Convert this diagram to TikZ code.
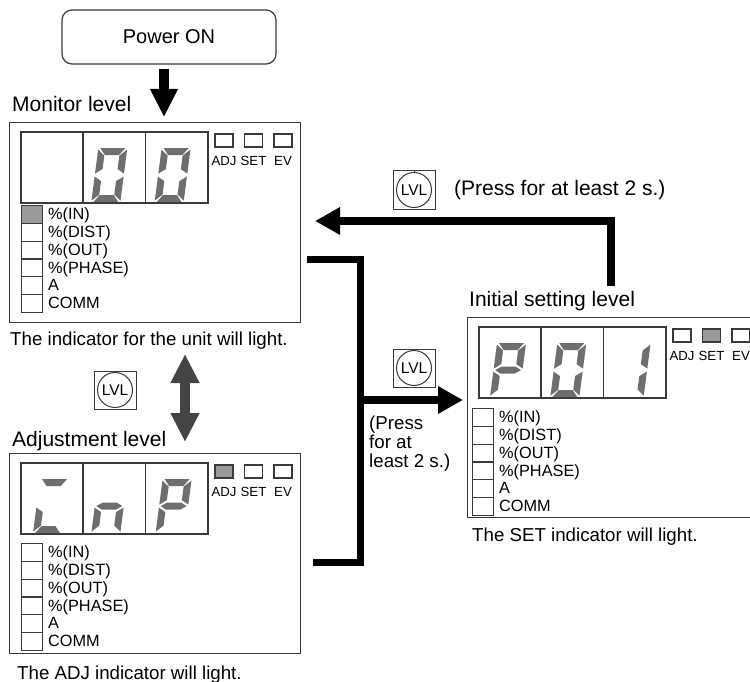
\documentclass[tikz,border=0pt]{standalone}
\usepackage{fontspec}
\setmainfont{Liberation Sans}
\usetikzlibrary{arrows.meta, positioning}
\definecolor{seggray}{HTML}{6E6E6E}
\definecolor{litgray}{HTML}{9A9A9A}
\definecolor{framegray}{HTML}{3A3A3A}
\definecolor{arrowgray}{HTML}{444444}

\newcommand{\sega}{(2,54) -- (27,54) -- (21.5,47) -- (7.5,47) -- cycle}
\newcommand{\segb}{(29,52.5) -- (29,28.5) -- (22,33) -- (22,46.5) -- cycle}
\newcommand{\segc}{(29,25.5) -- (29,1.5) -- (22,7.5) -- (22,21) -- cycle}
\newcommand{\segd}{(2,0) -- (27,0) -- (21.5,7) -- (7.5,7) -- cycle}
\newcommand{\sege}{(0,1.5) -- (0,25.5) -- (7,21) -- (7,7.5) -- cycle}
\newcommand{\segf}{(0,28.5) -- (0,52.5) -- (7,46.5) -- (7,33) -- cycle}
\newcommand{\segg}{(1.5,27) -- (7.5,30.5) -- (21.5,30.5) -- (27.5,27) -- (21.5,23.5) -- (7.5,23.5) -- cycle}

\newcommand{\sevenseg}[3]{%
  \begin{scope}[shift={(#1.south west)}, shift={(#2,-1.5)}, x=1pt, y=1pt, xslant=0.13]
    \foreach \s in {#3} {\fill[seggray] \csname seg\s\endcsname;}
  \end{scope}}

\newcommand{\levelpanel}[5]{%
  \node[panelbox, anchor=north west] (#1) at (#2,#3) {};
  \foreach \i in {0,1,2}
    \node[digitcell, anchor=north west] (#1-d\i) at (#2+11+62.3*\i,#3+9) {};
  \foreach \k/\lab [count=\j from 0] in {adj/ADJ,set/SET,ev/EV} {
    \node[lampbox] (#1-\k) at (#2+215+29.5*\j,#3+18.5) {};
    \node[lamplabel] at (#2+215+29.5*\j,#3+43.5) {\lab};
  }
  \foreach \lab [count=\j from 0] in {\%(IN),\%(DIST),\%(OUT),\%(PHASE),A,COMM} {
    \node[listbox, anchor=north west] (#1-l\j) at (#2+#4,#3+#5+17.8*\j) {};
    \node[listlabel] at (#2+#4+27,#3+#5+17.8*\j+14.7) {\lab};
  }}

\begin{document}
\begin{tikzpicture}[x=1pt, y=-1pt,
  panelbox/.style={draw=framegray, line width=1.4pt, minimum width=291pt, minimum height=200pt, inner sep=0pt},
  digitcell/.style={draw=framegray, line width=1.6pt, minimum width=62.3pt, minimum height=71pt, inner sep=0pt},
  lampbox/.style={draw=framegray, line width=1.1pt, minimum width=18pt, minimum height=13pt, inner sep=0pt},
  listbox/.style={draw=framegray, line width=1.1pt, minimum width=21pt, minimum height=17.8pt, inner sep=0pt},
  lamplabel/.style={anchor=base, inner sep=0pt, font=\fontsize{13.2}{15}\selectfont},
  listlabel/.style={anchor=base west, inner sep=0pt, font=\fontsize{16.3}{18}\selectfont},
  titletext/.style={anchor=base west, inner sep=0pt, font=\fontsize{21}{24}\selectfont},
  captext/.style={anchor=base west, inner sep=0pt, font=\fontsize{18.7}{19.3}\selectfont},
  powerbox/.style={draw=framegray, line width=1.2pt, rounded corners=10pt, minimum width=214pt, minimum height=54pt, font=\fontsize{20}{24}\selectfont},
  lvlbtn/.style={draw=framegray, line width=1pt, minimum width=42pt, minimum height=38pt, inner sep=0pt},
  lvlring/.style={circle, draw=framegray, line width=1pt, minimum size=35pt, inner sep=0pt, font=\fontsize{15.5}{16}\selectfont},
  bigarrow/.style={line width=10pt, -{Triangle[width=26pt,length=28pt]}},
  dblarrow/.style={draw=arrowgray, line width=10pt, {Triangle[width=27pt,length=29pt]}-{Triangle[width=27pt,length=29pt]}},
  thickline/.style={line width=7pt},
  thickarrow/.style={line width=7.5pt, -{Triangle[width=26pt,length=25pt]}}
]
  \fill[white] (0,0) rectangle (750,682);
  \useasboundingbox (0,0) rectangle (750,682);

  \node[powerbox] (power) at (169,37) {Power ON};

  \node[titletext] (montitle) at (12,111.7) {Monitor level};
  \levelpanel{mon}{9}{122}{12}{83}
  \node[listbox, fill=litgray] at (mon-l0) {};
  \sevenseg{mon-d1}{9}{a,b,c,d,e,f}
  \sevenseg{mon-d2}{10}{a,b,c,d,e,f}
  \node[captext] (moncap) at (10,345.6) {The indicator for the unit will light.};

  \node[titletext] (adjtitle) at (12,446.5) {Adjustment level};
  \levelpanel{adjl}{9}{453}{12}{90}
  \node[lampbox, fill=litgray] at (adjl-adj) {};
  \sevenseg{adjl-d0}{13}{a,d,e}
  \sevenseg{adjl-d1}{9}{c,e,g}
  \sevenseg{adjl-d2}{11}{a,b,e,f,g}
  \node[captext] (adjcap) at (17,679) {The ADJ indicator will light.};

  \node[titletext] (inittitle) at (469,306) {Initial setting level};
  \levelpanel{init}{467}{317}{5}{91}
  \node[lampbox, fill=litgray] at (init-set) {};
  \sevenseg{init-d0}{12}{a,b,e,f,g}
  \sevenseg{init-d1}{10}{a,b,c,d,e,f}
  \sevenseg{init-d2}{12}{b,c}
  \node[captext] (initcap) at (472,541.7) {The SET indicator will light.};

  \node[lvlbtn] (lvl-ret) at (414,190) {};
  \node[lvlring] (lvl-ret-c) at (lvl-ret) {LVL};
  \draw[framegray, line width=1pt] (lvl-ret-c.north) -- (lvl-ret.north);
  \node[captext, font=\fontsize{21}{24}\selectfont] (ret-note) at (454,196) {(Press for at least 2 s.)};

  \node[lvlbtn] (lvl-adj) at (115,390) {};
  \node[lvlring] (lvl-adj-c) at (lvl-adj) {LVL};

  \node[lvlbtn] (lvl-set) at (414,368) {};
  \node[lvlring] (lvl-set-c) at (lvl-set) {LVL};
  \node[captext, anchor=north west, align=left] (set-note) at (369,415.5) {(Press\\for at\\least 2 s.)};

  \coordinate (mon-in) at (164,117);
  \coordinate (lvl-top) at (185,354);
  \coordinate (lvl-bot) at (185,442);
  \coordinate (ret-from) at (611,286);
  \coordinate (ret-to) at (315,221);
  \coordinate (br-top) at (307,259);
  \coordinate (br-bot) at (313,562);
  \coordinate (br-mid) at (360,400);

  \draw[bigarrow, shorten <=4pt] (power.south -| mon-in) -- (mon-in);
  \draw[dblarrow] (lvl-top) -- (lvl-bot);
  \draw[thickarrow] (ret-from) |- (ret-to);
  \draw[thickline] (br-top) -| (br-mid) |- (br-bot);
  \draw[thickarrow, shorten >=4pt] (br-mid) -- (init.west |- br-mid);
\end{tikzpicture}
\end{document}
